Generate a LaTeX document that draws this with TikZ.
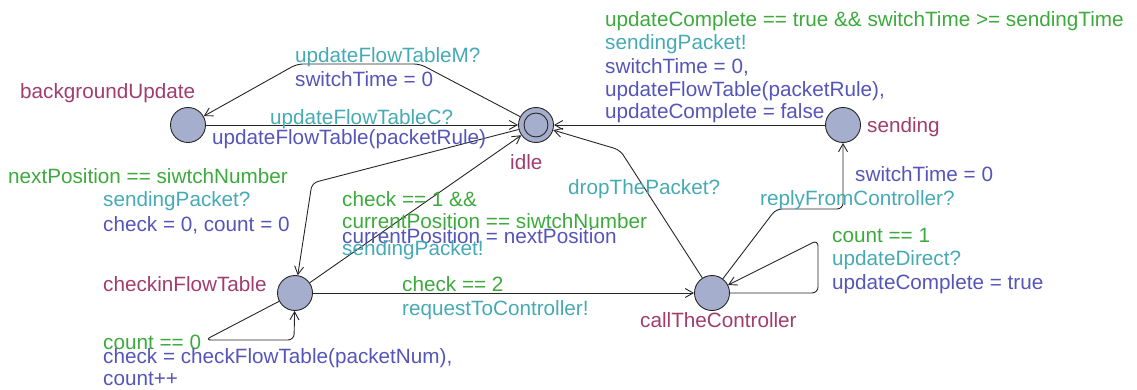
\documentclass[tikz,border=0pt]{standalone}
\usepackage{fontspec}
\setmainfont{Liberation Sans}
\usetikzlibrary{arrows.meta}
\definecolor{locname}{RGB}{160,60,110}
\definecolor{guard}{RGB}{60,170,60}
\definecolor{sync}{RGB}{70,170,180}
\definecolor{upd}{RGB}{85,85,185}
\definecolor{locfill}{RGB}{166,174,206}
\begin{document}
\begin{tikzpicture}[x=1pt,y=-1pt,
  loc/.style={circle,draw=black!85,fill=locfill,line width=0.9pt,minimum size=35pt,inner sep=0pt},
  inner/.style={circle,draw=black!85,line width=0.9pt,minimum size=24pt,inner sep=0pt},
  lbl/.style={anchor=base west,inner sep=0pt,font=\fontsize{20.7}{24}\selectfont},
  nm/.style={lbl,text=locname},
  gd/.style={lbl,text=guard},
  sy/.style={lbl,text=sync},
  up/.style={lbl,text=upd},
  edge/.style={draw=black!85,line width=0.9pt,rounded corners=6pt,-{Straight Barb[length=8pt,width=9pt]}}]
\useasboundingbox (0,0) rectangle (1137,390);
% locations
\node[loc] (bg) at (188,125) {};
\node[loc] (idle) at (536,125) {};
\node[inner] (idlein) at (idle) {};
\node[loc] (send) at (843,125) {};
\node[loc] (chk) at (295,293) {};
\node[loc] (call) at (712,293) {};
% nails
\coordinate (n1a) at (420,64);
\coordinate (n1b) at (297,64);
\coordinate (n3) at (312,183);
\coordinate (n6a) at (205,340);
\coordinate (n6b) at (294,340);
\coordinate (n7) at (620,150);
\coordinate (n8a) at (776,209);
\coordinate (n8b) at (843,209);
\coordinate (n9a) at (818,293);
\coordinate (n9b) at (818,240);
% edges
\draw[edge] (idle) -- (n1a) -- (n1b) -- (bg);
\draw[edge] (bg) -- (idle);
\draw[edge] (idle) -- (n3) -- (chk);
\draw[edge] (chk) -- (idle);
\draw[edge] (chk) -- (call);
\draw[edge] (chk) -- (n6a) -- (n6b) -- (chk);
\draw[edge] (call) -- (n7) -- (idle);
\draw[edge] (call) -- (n8a) -- (n8b) -- (send);
\draw[edge] (call) -- (n9a) -- (n9b) -- (call);
\draw[edge] (send) -- (idle);
% location names
\node[nm] (tbg) at (20,99) {backgroundUpdate};
\node[nm] (tidle) at (510,170) {idle};
\node[nm] (tsend) at (867,133) {sending};
\node[nm] (tchk) at (103,291) {checkinFlowTable};
\node[nm] (tcall) at (640,327) {callTheController};
% edge labels
\node[sy] (a1) at (295,63) {updateFlowTableM?};
\node[up] (a2) at (295,87) {switchTime = 0};
\node[sy] (b1) at (270,125) {updateFlowTableC?};
\node[up] (b2) at (212,145) {updateFlowTable(packetRule)};
\node[gd] (c1) at (8,183) {nextPosition == siwtchNumber};
\node[sy] (c2) at (103,207) {sendingPacket?};
\node[up] (c3) at (103,231) {check = 0, count = 0};
\node[gd] (d1) at (342,207) {check == 1 \&\&};
\node[gd] (d2) at (342,228) {currentPosition == siwtchNumber};
\node[up] (d3) at (342,243) {currentPosition = nextPosition};
\node[sy] (d4) at (342,255) {sendingPacket!};
\node[gd] (e1) at (402,291) {check == 2};
\node[sy] (e2) at (402,315) {requestToController!};
\node[gd] (f1) at (103,349) {count == 0};
\node[up] (f2) at (103,363) {check = checkFlowTable(packetNum),};
\node[up] (f3) at (103,385) {count++};
\node[sy] (g1) at (568,195) {dropThePacket?};
\node[up] (h1) at (855,182) {switchTime = 0};
\node[sy] (h2) at (760,205) {replyFromController?};
\node[gd] (i1) at (832,242) {count == 1};
\node[sy] (i2) at (832,265) {updateDirect?};
\node[up] (i3) at (832,289) {updateComplete = true};
\node[gd] (j1) at (605,27) {updateComplete == true \&\& switchTime >= sendingTime};
\node[sy] (j2) at (605,50) {sendingPacket!};
\node[up] (j3) at (605,74) {switchTime = 0,};
\node[up] (j4) at (605,97) {updateFlowTable(packetRule),};
\node[up] (j5) at (605,119) {updateComplete = false};
\end{tikzpicture}
\end{document}
